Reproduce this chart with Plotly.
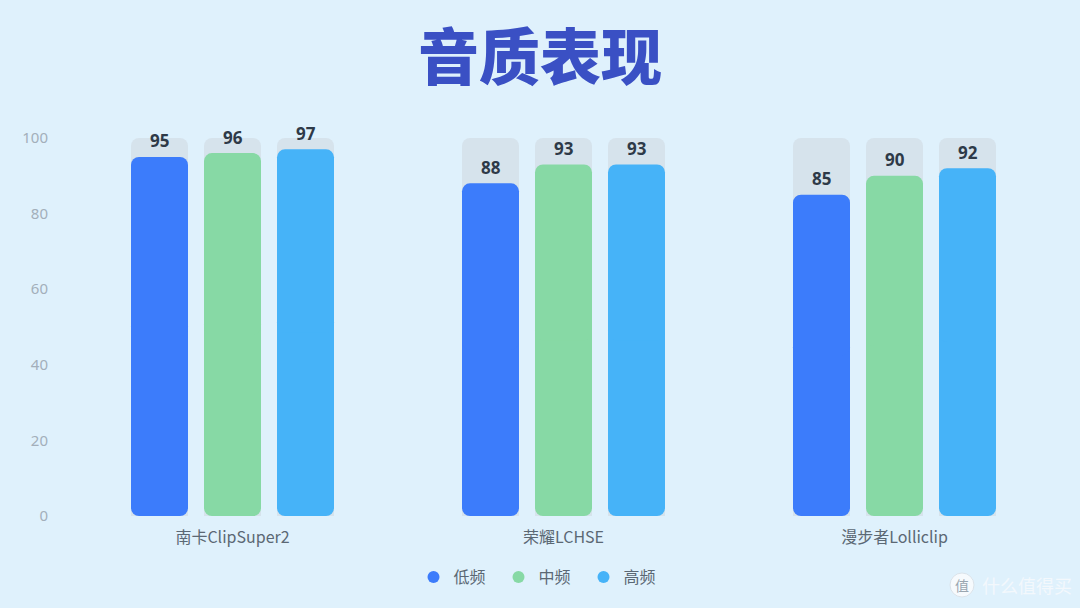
import plotly.graph_objects as go

# Sound-quality scores per earbud model and frequency band
models = ["南卡ClipSuper2", "荣耀LCHSE", "漫步者Lolliclip"]
low_band = [95, 88, 85]
mid_band = [96, 93, 90]
high_band = [97, 93, 92]
score_ticks = [0, 20, 40, 60, 80, 100]
full_score = 100

W, H = 1080, 608
PLOT_LEFT, PLOT_RIGHT, PLOT_TOP, PLOT_BOTTOM = 67, 1060, 138, 516
GROUP_PX = (PLOT_RIGHT - PLOT_LEFT) / 3

BANDS = [
    ("低频", low_band, "#3c7cfb", -73 / GROUP_PX),
    ("中频", mid_band, "#87d9a5", 0.0),
    ("高频", high_band, "#46b3f8", 73 / GROUP_PX),
]
BAR_WIDTH = 57 / GROUP_PX
RADIUS = 8
CJK = "Noto Sans CJK SC"
positions = list(range(len(models)))


def px_x(x):
    return x / W


def px_y(y):
    return 1 - y / H


fig = go.Figure()

# Pale tracks running up to the full score behind each bar
for _, _, _, shift in BANDS:
    fig.add_bar(
        x=[p + shift for p in positions],
        y=[full_score] * len(models),
        width=BAR_WIDTH,
        marker=dict(color="#d6e3ec", cornerradius=RADIUS, line_width=0),
        showlegend=False,
        hoverinfo="skip",
    )

# Each bar is two overlapping halves so that both ends get rounded corners
for name, values, color, shift in BANDS:
    xs = [p + shift for p in positions]
    fig.add_bar(
        x=xs,
        base=[v * 0.55 for v in values],
        y=[-v * 0.55 for v in values],
        width=BAR_WIDTH,
        marker=dict(color=color, cornerradius=RADIUS, line_width=0),
        showlegend=False,
        hoverinfo="skip",
    )
    fig.add_bar(
        x=xs,
        base=[v * 0.5 for v in values],
        y=[v * 0.5 for v in values],
        width=BAR_WIDTH,
        marker=dict(color=color, cornerradius=RADIUS, line_width=0),
        showlegend=False,
        name=name,
        customdata=values,
        hovertemplate="%{customdata}<extra>" + name + "</extra>",
    )
    # Round legend keys
    fig.add_scatter(
        x=[None],
        y=[None],
        mode="markers",
        name=name,
        marker=dict(color=color, size=14, symbol="circle"),
    )
    # Value labels above the bars
    for x, v in zip(xs, values):
        fig.add_annotation(
            x=x, y=v, yshift=16, text=str(v), showarrow=False,
            yanchor="middle", xanchor="center",
            font=dict(family="Noto Sans", size=17, weight=700, color="#2e3a48"),
        )

# Site mark in the lower right corner
fig.add_shape(
    type="circle", xref="paper", yref="paper",
    x0=px_x(950), x1=px_x(974), y0=px_y(597), y1=px_y(573),
    fillcolor="#f6fafd", line=dict(color="#dbe3ea", width=1),
)
fig.add_annotation(
    xref="paper", yref="paper", x=px_x(962), y=px_y(585), text="值", showarrow=False,
    xanchor="center", yanchor="middle",
    font=dict(family=CJK, size=14, color="#9aa6b0"),
)
fig.add_annotation(
    xref="paper", yref="paper", x=px_x(980), y=px_y(585), xanchor="left", yanchor="middle",
    text="什么值得买", showarrow=False,
    font=dict(family=CJK, size=18, color="#f3f8fc"),
)

fig.update_layout(
    width=W,
    height=H,
    autosize=False,
    barmode="overlay",
    paper_bgcolor="#dff1fc",
    plot_bgcolor="#dff1fc",
    margin=dict(l=0, r=0, t=0, b=0, pad=0, autoexpand=False),
    title=dict(
        text="音质表现",
        x=0.5,
        xanchor="center",
        y=px_y(59),
        yanchor="middle",
        font=dict(family=CJK, size=61, weight=900, color="#3a50c4"),
    ),
    legend=dict(
        orientation="h",
        x=px_x(541),
        xanchor="center",
        y=px_y(577),
        yanchor="middle",
        entrywidth=40,
        entrywidthmode="pixels",
        itemsizing="constant",
        font=dict(family=CJK, size=16, color="#5b6874"),
        bgcolor="rgba(0,0,0,0)",
    ),
    xaxis=dict(
        domain=[px_x(PLOT_LEFT), px_x(PLOT_RIGHT)],
        range=[-0.5, 2.5],
        tickvals=positions,
        ticktext=models,
        showgrid=False,
        zeroline=False,
        showline=False,
        ticks="",
        ticklabelstandoff=10,
        tickfont=dict(family=CJK, size=16, color="#5b6874"),
    ),
    yaxis=dict(
        domain=[px_y(PLOT_BOTTOM), px_y(PLOT_TOP)],
        range=[0, full_score],
        tickvals=score_ticks,
        showgrid=False,
        zeroline=False,
        showline=False,
        ticks="",
        ticklabelstandoff=18,
        tickfont=dict(family="Noto Sans", size=15, color="#a3afba"),
    ),
)

fig.write_html("out.html")
